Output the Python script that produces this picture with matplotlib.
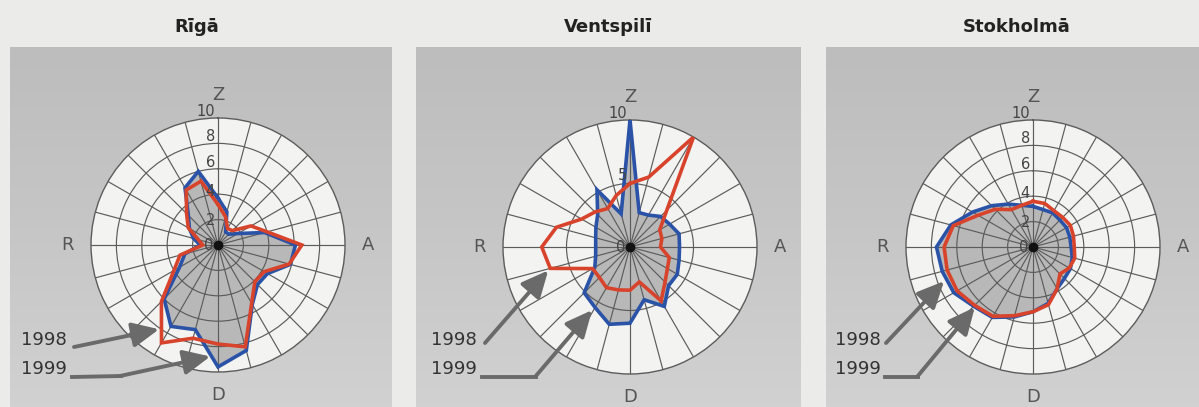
import numpy as np
import matplotlib
matplotlib.use("Agg")
from matplotlib import pyplot as plt
from matplotlib.lines import Line2D
from matplotlib.transforms import IdentityTransform
from matplotlib.colors import LinearSegmentedColormap

W, H = 1199, 407

# wind directions, degrees clockwise from Z (north)
directions = list(range(0, 360, 15))

cities = ["Rīgā", "Ventspilī", "Stokholmā"]
compass = ["Z", "A", "D", "R"]
compass_deg = [0, 90, 180, 270]

riga_1998 = [3.2, 2.3, 1.5, 1.6, 3.0, 4.0, 6.6, 5.8, 4.2, 4.1, 5.3, 8.3,
             7.8, 7.6, 8.9, 6.3, 4.0, 3.1, 1.2, 1.6, 2.7, 3.5, 5.0, 5.2]
riga_1999 = [3.7, 2.7, 1.2, 1.2, 1.8, 3.8, 6.1, 5.9, 4.5, 4.4, 5.4, 8.6,
             9.6, 6.9, 7.4, 6.0, 3.5, 2.7, 1.4, 2.0, 2.6, 3.3, 5.2, 6.0]

ventspils_1998 = [5.0, 5.7, 10.0, 4.1, 2.7, 2.6, 2.4, 3.2, 3.4, 3.9, 4.9, 2.85,
                  3.4, 3.5, 3.7, 3.4, 3.4, 6.5, 6.95, 6.0, 4.4, 3.9, 3.5, 4.2]
ventspils_1999 = [10.0, 2.8, 2.9, 3.4, 3.6, 4.0, 3.9, 4.0, 4.3, 4.3, 5.4, 4.3,
                  6.0, 6.3, 5.5, 5.1, 3.2, 2.8, 2.7, 2.8, 3.1, 3.6, 5.2, 2.7]

stockholm_1998 = [3.6, 3.55, 3.3, 3.3, 3.4, 3.3, 3.25, 3.4, 3.3, 3.0, 3.8, 4.7,
                  5.1, 5.6, 6.3, 6.5, 6.9, 7.0, 7.0, 6.5, 5.0, 4.2, 3.4, 3.4]
stockholm_1999 = [3.2, 3.05, 3.1, 3.0, 3.05, 3.0, 3.0, 3.2, 3.4, 3.5, 3.8, 4.6,
                  5.1, 5.7, 6.4, 6.6, 7.2, 7.4, 7.6, 6.7, 5.5, 4.6, 3.9, 3.4]

riga_rings = [0, 2, 4, 6, 8, 10]
ventspils_rings = [0, 5, 10]
stockholm_rings = [0, 2, 4, 6, 8, 10]

years = ["1998", "1999"]

# layout in pixels (y from top)
panels = [
    dict(x0=10, x1=391, cx=218, cy=245, tx=197,
         d98=riga_1998, d99=riga_1999, rings=riga_rings,
         tip98=(215, 8.1), tip99=(184, 8.8),
         s98=(74, 347), s99=(72, 377), b99=(120, 376), txt=67),
    dict(x0=416, x1=801, cx=630, cy=247, tx=608,
         d98=ventspils_1998, d99=ventspils_1999, rings=ventspils_rings,
         tip98=(254, 6.7), tip99=(211, 5.8),
         s98=(485, 343), s99=(482, 377), b99=(535, 377), txt=477),
    dict(x0=826, x1=1199, cx=1033, cy=247, tx=1017,
         d98=stockholm_1998, d99=stockholm_1999, rings=stockholm_rings,
         tip98=(249, 7.5), tip99=(224, 6.6),
         s98=(886, 343), s99=(885, 377), b99=(917, 377), txt=881),
]
R = 127
ring_dy = {0: 0, 2: 1, 4: -3, 5: -8, 6: -6, 8: -7, 10: -7}

blue = "#2a52a6"
red = "#d8432c"
arrow_c = "#6a6a6a"
grid_c = "#5c5c5c"

fig = plt.figure(figsize=(W / 100, H / 100), dpi=100)
fig.patch.set_facecolor("#ebebe9")

panel_cmap = LinearSegmentedColormap.from_list("panel", ["#bdbdbd", "#c6c6c6", "#d1d1d1"])
grad = np.linspace(0, 1, 100).reshape(-1, 1)

for i, p in enumerate(panels):
    # grey panel
    bg = fig.add_axes([p["x0"] / W, 0, (p["x1"] - p["x0"]) / W, (H - 47) / H])
    bg.imshow(grad, aspect="auto", cmap=panel_cmap, vmin=0, vmax=1,
              extent=[0, 1, 0, 1], origin="upper")
    bg.axis("off")

    ax = fig.add_axes([(p["cx"] - R) / W, 1 - (p["cy"] + R) / H, 2 * R / W, 2 * R / H],
                      projection="polar")
    ax.set_theta_zero_location("N")
    ax.set_theta_direction(-1)
    ax.set_facecolor("#f3f3f1")
    ax.set_ylim(0, 10)
    ax.set_xticks(np.deg2rad(directions))
    ax.set_xticklabels([])
    ax.set_yticks([r for r in p["rings"] if 0 < r < 10])
    ax.set_yticklabels([])
    ax.grid(True, color=grid_c, lw=0.85)
    ax.set_axisbelow(False)
    ax.spines["polar"].set_color(grid_c)
    ax.spines["polar"].set_linewidth(1.0)
    ax.tick_params(length=0, pad=0)

    th = np.deg2rad(directions + [directions[0]])
    v98 = p["d98"] + [p["d98"][0]]
    v99 = p["d99"] + [p["d99"][0]]
    ax.fill(th, v99, color="#b8b8b8", zorder=1)
    ax.plot(th, v99, color=blue, lw=2.6, zorder=4, solid_joinstyle="miter")
    ax.plot(th, v98, color=red, lw=2.6, zorder=5, solid_joinstyle="miter")
    ax.plot([0], [0], "o", ms=6, color="#111111", zorder=6)

    for lab, d in zip(compass, compass_deg):
        ax.text(np.deg2rad(d), 11.85, lab, ha="center", va="center",
                fontsize=13, color="#555555", clip_on=False)

    # radial labels, just left of the Z spoke
    for r in p["rings"]:
        x = p["cx"] - (5 if r == 0 else 3)
        y = p["cy"] - r * R / 10 + ring_dy[r]
        fig.text(x / W, 1 - y / H, str(r), ha="right", va="center",
                 fontsize=10.5, color="#444444")

    fig.text(p["tx"] / W, 1 - 27 / H, cities[i], ha="center", va="center",
             fontsize=13, fontweight="bold", color="#222222")

    # year labels with arrows
    fig.text(p["txt"] / W, 1 - 340 / H, years[0], ha="right", va="center",
             fontsize=13, color="#333333")
    fig.text(p["txt"] / W, 1 - 369 / H, years[1], ha="right", va="center",
             fontsize=13, color="#333333")

    aprops = dict(arrowstyle="-|>,head_length=0.9,head_width=0.42",
                  mutation_scale=18, lw=2.8, color=arrow_c,
                  shrinkA=0, shrinkB=0)
    t98 = (np.deg2rad(p["tip98"][0]), p["tip98"][1])
    t99 = (np.deg2rad(p["tip99"][0]), p["tip99"][1])
    ax.annotate("", xy=t98, xycoords="data",
                xytext=(p["s98"][0], H - p["s98"][1]), textcoords="figure pixels",
                arrowprops=aprops, annotation_clip=False)
    fig.add_artist(Line2D([p["s99"][0], p["b99"][0] + 1],
                          [H - p["s99"][1], H - p["b99"][1]],
                          transform=IdentityTransform(), lw=2.8, color=arrow_c))
    ax.annotate("", xy=t99, xycoords="data",
                xytext=(p["b99"][0], H - p["b99"][1]), textcoords="figure pixels",
                arrowprops=aprops, annotation_clip=False)

fig.savefig("out.png", dpi=100, facecolor=fig.get_facecolor())
